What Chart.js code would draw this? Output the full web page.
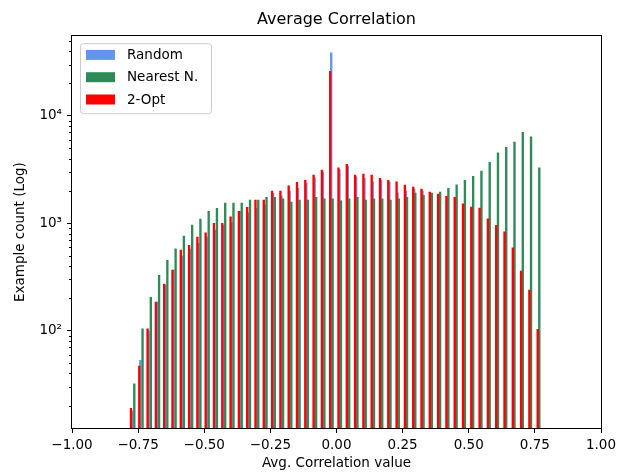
<!DOCTYPE html>
<html>
<head>
<meta charset="utf-8">
<title>Average Correlation</title>
<script src="https://cdn.jsdelivr.net/npm/chart.js@4.4.1/dist/chart.umd.min.js"></script>
<style>
  html, body { margin: 0; padding: 0; background: #fff; }
  #wrap { width: 617px; height: 475px; }
</style>
</head>
<body>
<div id="wrap"><canvas id="correlationChart" width="617" height="475"></canvas></div>
<script>
// Histogram counts per bin (50 bins each)
const randomCounts = [18, 53, 100, 185, 266, 367, 495, 575, 650, 740, 865, 960, 1010, 1290, 1253, 1376, 1476, 1900, 1800, 1995,
    2120, 2350, 2650, 2990, 38500, 3150, 3400, 2700, 2620, 2430, 2520, 2420, 1925, 1995, 2080, 1990, 1860, 1345, 1720, 1680,
    1460, 1072, 1330, 1060, 920, 800, 570, 345, 230, 99];
const nearestCounts = [32, 104, 205, 328, 452, 580, 760, 962, 1094, 1290, 1376, 1543, 1543, 1543, 1645, 1645, 1741, 1741, 1690, 1575,
    1645, 1645, 1741, 1690, 1690, 1620, 1690, 1741, 1645, 1690, 1690, 1645, 1690, 1741, 1910, 1820, 1910, 1950, 2120, 2280,
    2510, 2730, 3060, 3690, 4530, 5080, 5690, 7010, 6380, 3280];
const twoOptCounts = [19, 47, 104, 185, 272, 367, 563, 622, 745, 816, 998, 998, 1148, 1290, 1405, 1645, 1645, 1995, 1995, 2230,
    2400, 2510, 2805, 3125, 26000, 3280, 3530, 2805, 2870, 2805, 2620, 2510, 2430, 2265, 2170, 2080, 1950, 1870, 1780, 1741,
    1517, 1415, 1384, 1102, 955, 834, 591, 359, 239, 103];

// First and last bin centres of each histogram
const randomBins = [-0.773, 0.7645];
const nearestBins = [-0.7645, 0.7667];
const twoOptBins = [-0.777, 0.7607];

const xTicks = [-1, -0.75, -0.5, -0.25, 0, 0.25, 0.5, 0.75, 1];
const yMajorTicks = [100, 1000, 10000];
const yMinorTicks = [20, 30, 40, 50, 60, 70, 80, 90, 200, 300, 400, 500, 600, 700, 800, 900,
    2000, 3000, 4000, 5000, 6000, 7000, 8000, 9000, 20000, 30000, 40000, 50000];
const yLabels = { 100: '10\u00b2', 1000: '10\u00b3', 10000: '10\u2074' };

const FONT = 'DejaVu Sans';

function toPoints(counts, bins) {
    const step = (bins[1] - bins[0]) / (counts.length - 1);
    return counts.map((c, i) => ({ x: bins[0] + i * step, y: c }));
}

function formatX(v) {
    const s = Math.abs(v).toFixed(2);
    return v < 0 ? '\u2212' + s : s;
}

// Frame, minor log ticks and the boxed legend
const axesExtras = {
    id: 'axesExtras',
    afterDraw(chart) {
        const { ctx, chartArea: a, scales } = chart;
        ctx.save();
        ctx.strokeStyle = '#000';
        ctx.lineWidth = 1;
        ctx.strokeRect(Math.round(a.left) - 0.5, Math.round(a.top) - 0.5,
            Math.round(a.right - a.left) + 1, Math.round(a.bottom - a.top) + 1);

        ctx.beginPath();
        yMinorTicks.forEach(v => {
            const y = Math.round(scales.y.getPixelForValue(v)) + 0.5;
            ctx.moveTo(a.left - 3, y);
            ctx.lineTo(a.left, y);
        });
        ctx.stroke();

        // legend
        const bx = a.left + 8, by = a.top + 7, bw = 131, bh = 70;
        ctx.beginPath();
        ctx.roundRect(bx + 0.5, by + 0.5, bw, bh, 3);
        ctx.fillStyle = 'rgba(255,255,255,0.8)';
        ctx.fill();
        ctx.strokeStyle = '#cccccc';
        ctx.stroke();

        ctx.font = '13.5px "' + FONT + '"';
        ctx.textBaseline = 'middle';
        chart.data.datasets.forEach((ds, i) => {
            const cy = by + 11.7 + i * 22.3;
            ctx.fillStyle = ds.backgroundColor;
            ctx.fillRect(bx + 6, cy - 5, 29, 10);
            ctx.fillStyle = '#000';
            ctx.fillText(ds.label, bx + 47, cy + 0.5);
        });
        ctx.restore();
    }
};

const ctx = document.getElementById('correlationChart');

new Chart(ctx, {
    type: 'bar',
    data: {
        datasets: [{
            label: 'Random',
            data: toPoints(randomCounts, randomBins),
            backgroundColor: '#6495ED',
            order: 2
        }, {
            label: 'Nearest N.',
            data: toPoints(nearestCounts, nearestBins),
            backgroundColor: '#2E8B57',
            order: 1
        }, {
            label: '2-Opt',
            data: toPoints(twoOptCounts, twoOptBins),
            backgroundColor: '#FF0000',
            order: 0
        }]
    },
    options: {
        responsive: false,
        animation: false,
        devicePixelRatio: 1,
        layout: { padding: { top: 2, right: 16, bottom: 0, left: 0 } },
        datasets: {
            bar: { grouped: false, barThickness: 1.7, borderWidth: 0 }
        },
        plugins: {
            legend: { display: false },
            tooltip: { enabled: false },
            title: {
                display: true,
                text: 'Average Correlation',
                fullSize: false,
                color: '#000',
                font: { family: FONT, size: 16, weight: 'normal' },
                padding: { top: 8, bottom: 7 }
            }
        },
        scales: {
            x: {
                type: 'linear',
                min: -1,
                max: 1,
                offset: false,
                afterBuildTicks: scale => { scale.ticks = xTicks.map(v => ({ value: v })); },
                afterFit: scale => {
                    scale.height = 47;
                    scale.paddingLeft = 0;
                    scale.paddingRight = 0;
                },
                grid: { display: true, drawOnChartArea: false, drawTicks: true, tickLength: 5, tickColor: '#000', offset: false },
                border: { display: false },
                ticks: {
                    color: '#000',
                    font: { family: FONT, size: 13.5 },
                    padding: 4,
                    maxRotation: 0,
                    autoSkip: false,
                    callback: v => formatX(v)
                },
                title: {
                    display: true,
                    text: 'Avg. Correlation value',
                    color: '#000',
                    font: { family: FONT, size: 13.5 },
                    padding: { top: 0, bottom: 3 }
                }
            },
            y: {
                type: 'logarithmic',
                min: 12.44,
                max: 55100,
                afterBuildTicks: scale => { scale.ticks = yMajorTicks.map(v => ({ value: v })); },
                afterFit: scale => {
                    scale.width = 72;
                    scale.paddingTop = 0;
                    scale.paddingBottom = 0;
                },
                grid: { display: true, drawOnChartArea: false, drawTicks: true, tickLength: 5, tickColor: '#000' },
                border: { display: false },
                ticks: {
                    color: '#000',
                    font: { family: FONT, size: 13.5 },
                    padding: 5,
                    autoSkip: false,
                    callback: v => yLabels[v]
                },
                title: {
                    display: true,
                    text: 'Example count (Log)',
                    color: '#000',
                    font: { family: FONT, size: 13.5 },
                    padding: { top: 12, bottom: 0 }
                }
            }
        }
    },
    plugins: [axesExtras]
});
</script>
</body>
</html>
